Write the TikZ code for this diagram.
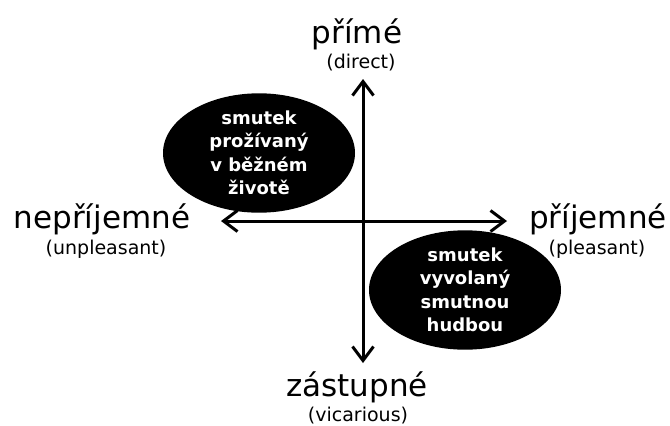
\documentclass[tikz,border=0pt]{standalone}
\usepackage{fontspec}
\setmainfont{DejaVu Sans}
\usetikzlibrary{arrows.meta,shapes.geometric}
\tikzset{
  axis/.style={line width=3pt,{Straight Barb[length=14pt,width=21pt,line width=3pt]}-{Straight Barb[length=14pt,width=21pt,line width=3pt]}},
  mainlab/.style={anchor=base,inner sep=0pt,font=\fontsize{31}{36}\selectfont},
  sublab/.style={anchor=base,inner sep=0pt,font=\fontsize{19}{22}\selectfont},
  blob/.style={ellipse,fill=black,text=white,inner sep=0pt,minimum width=192pt,minimum height=114pt,align=center,font=\bfseries\fontsize{18}{23.5}\selectfont}
}
\begin{document}
\begin{tikzpicture}[x=1pt,y=-1pt]
\useasboundingbox (0,0) rectangle (670,426);
\coordinate (vt) at (363,79);
\coordinate (vb) at (363,363);
\coordinate (hl) at (221,221);
\coordinate (hr) at (507,221);
\draw[axis] (vb) -- (vt);
\draw[axis] (hl) -- (hr);
\node[mainlab] (prime) at (357,43) {přímé};
\node[sublab] (direct) at (361,68) {(direct)};
\node[mainlab] (neprij) at (102,228) {nepříjemné};
\node[sublab] (unpl) at (106,254) {(unpleasant)};
\node[mainlab] (prij) at (598,228) {příjemné};
\node[sublab] (pl) at (597,254) {(pleasant)};
\node[mainlab] (zast) at (357,396) {zástupné};
\node[sublab] (vic) at (358,421) {(vicarious)};
\node[blob] (e1) at (259,153) {smutek\\prožívaný\\v běžném\\životě};
\node[blob] (e2) at (465,290) {smutek\\vyvolaný\\smutnou\\hudbou};
\end{tikzpicture}
\end{document}
